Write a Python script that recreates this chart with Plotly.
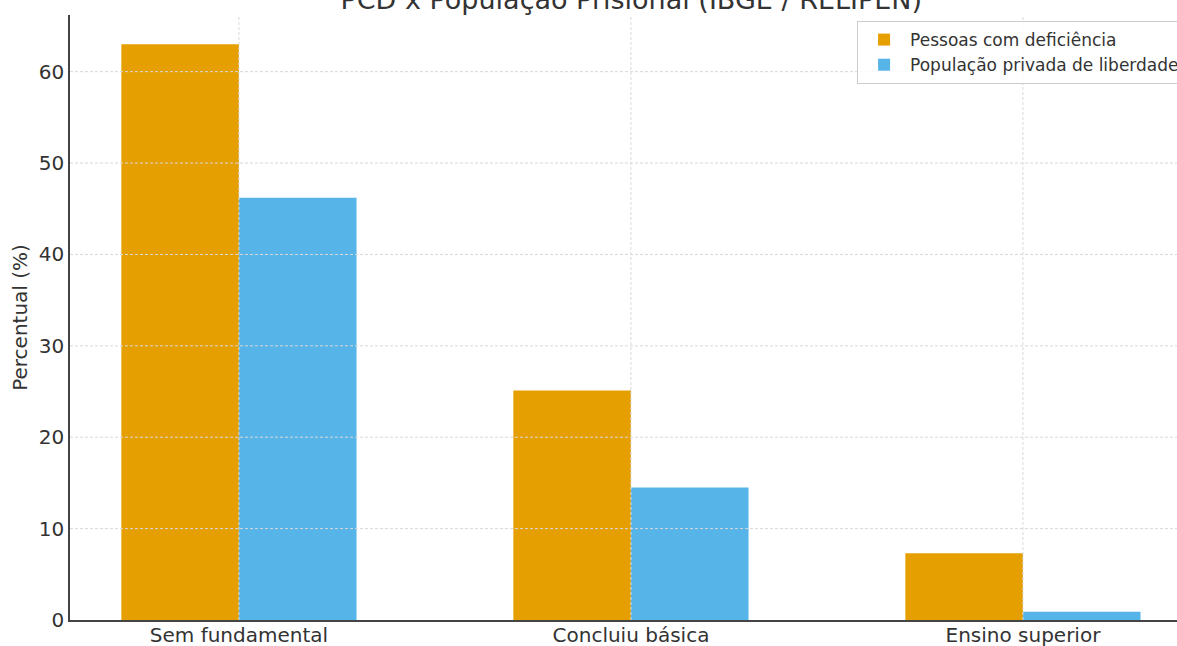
import plotly.graph_objects as go

categorias = ['Sem fundamental', 'Concluiu básica', 'Ensino superior']
pcd = [63.0, 25.1, 7.3]
prisional = [46.2, 14.5, 0.9]
y_ticks = [0, 10, 20, 30, 40, 50, 60]

FONT = 'DejaVu Sans'
ORANGE = '#E69F00'
BLUE = '#56B4E9'
TEXT = '#333333'
GRID = dict(color='#d8d8d8', width=1, dash='3px,2px')

fig = go.Figure()

fig.add_trace(go.Bar(x=[0, 1, 2], y=pcd, name='Pessoas com deficiência',
                     marker=dict(color=ORANGE, line=dict(width=0)),
                     width=0.3, offset=-0.3))
fig.add_trace(go.Bar(x=[0, 1, 2], y=prisional, name='População privada de liberdade',
                     marker=dict(color=BLUE, line=dict(width=0)),
                     width=0.3, offset=0))

# grid drawn on top of the bars, like the original
for t in y_ticks[1:]:
    fig.add_hline(y=t, line=GRID, layer='above')
for c in range(len(categorias)):
    fig.add_vline(x=c, line=GRID, layer='above')

fig.update_layout(
    width=1177, height=646,
    margin=dict(l=70, r=0, t=15, b=26, autoexpand=False),
    plot_bgcolor='white', paper_bgcolor='white',
    font=dict(family=FONT, color=TEXT),
    barmode='overlay',
    title=dict(text='PCD x População Prisional (IBGE / RELIPEN)',
               x=0.507, xref='paper', xanchor='center',
               y=1.0, yref='container', yanchor='middle',
               font=dict(size=27, family=FONT, color=TEXT)),
    legend=dict(x=0.711, y=0.99, xanchor='left', yanchor='top',
                bgcolor='rgba(255,255,255,0.85)', bordercolor='#cccccc', borderwidth=1,
                font=dict(size=17, family=FONT, color=TEXT),
                itemwidth=42, tracegroupgap=0),
    showlegend=True,
)

fig.update_xaxes(
    range=[-0.431, 2.393],
    tickvals=[0, 1, 2], ticktext=categorias,
    tickfont=dict(size=20, family=FONT, color=TEXT),
    ticklabelstandoff=-4,
    showgrid=False,
    showline=True, linecolor='#444444', linewidth=1.5,
    ticks='', zeroline=False, layer='above traces',
)
fig.update_yaxes(
    range=[0, 66.2],
    tickvals=y_ticks,
    tickfont=dict(size=20, family=FONT, color=TEXT),
    title=dict(text='Percentual (%)', font=dict(size=20, family=FONT, color=TEXT), standoff=6),
    showgrid=False,
    showline=True, linecolor='#444444', linewidth=1.5,
    ticks='', zeroline=False, layer='above traces',
)

fig.write_html('out.html', config={'displayModeBar': False},
               post_script="document.body.style.margin='0';")
